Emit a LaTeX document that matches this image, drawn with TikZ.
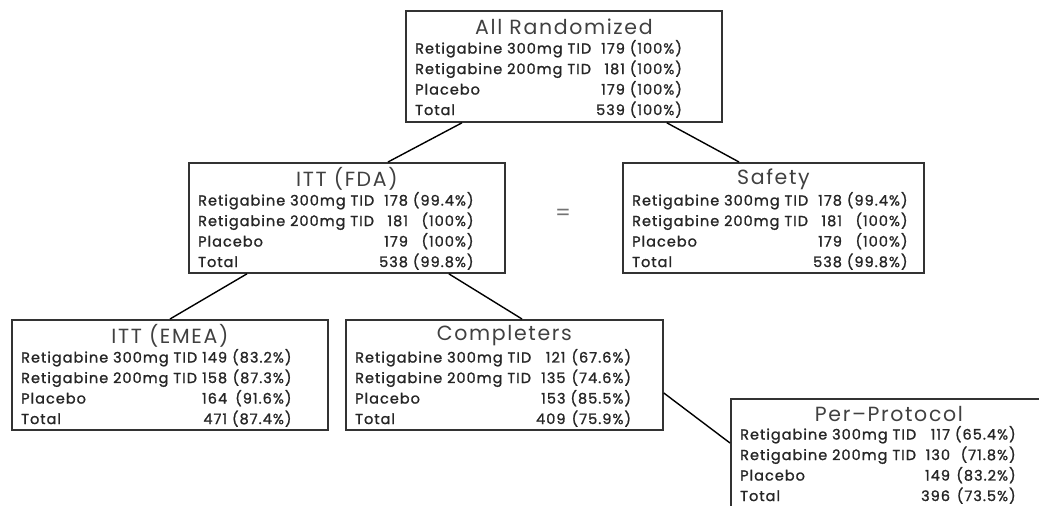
\documentclass[tikz,border=0pt]{standalone}
\usepackage{fontspec}
\setmainfont{Poppins}
\newfontfamily\rowfont[LetterSpace=7,FakeBold=1.2]{Poppins}
\newfontfamily\headfont[LetterSpace=8]{Poppins}
\usetikzlibrary{calc}
\newcommand{\rowtable}[8]{%
  \rowfont\fontsize{14.5}{20.5}\selectfont
  \begin{tabular}{@{}l@{\ }r@{\ }r@{}}
  Retigabine 300mg TID & #1 & (#2\%)\\
  Retigabine 200mg TID & #3 & (#4\%)\\
  Placebo & #5 & (#6\%)\\
  Total & #7 & (#8\%)
  \end{tabular}}
\tikzset{
  grpbox/.style={draw=black!80, line width=1.8pt, minimum width=316pt, minimum height=110pt, anchor=north west, inner sep=0pt},
  rowtxt/.style={anchor=north west, inner sep=0pt, text=black!85},
  titletxt/.style={anchor=center, inner sep=0pt, text=black!75, font=\headfont\fontsize{20.5}{22}\selectfont},
  link/.style={draw=black, line width=1.4pt}
}
\begin{document}
\begin{tikzpicture}[x=1pt,y=-1pt]
\useasboundingbox (0,0) rectangle (1039,506);
% boxes
\node[grpbox, minimum height=111pt] (ar) at (405,10) {};
\node[grpbox] (fda) at (188,162) {};
\node[grpbox, minimum width=301pt] (saf) at (622,162) {};
\node[grpbox] (emea) at (11,319) {};
\node[grpbox, minimum width=317pt] (comp) at (345,319) {};
\node[grpbox] (pp) at (730,398) {};
% titles
\node[titletxt] (art) at ([yshift=-17pt]ar.north) {All Randomized};
\node[titletxt] (fdat) at ([yshift=-17pt]fda.north) {ITT (FDA)};
\node[titletxt] (saft) at ([yshift=-17pt]saf.north) {Safety};
\node[titletxt] (emeat) at ([yshift=-17pt]emea.north) {ITT (EMEA)};
\node[titletxt] (compt) at ([yshift=-17pt]comp.north) {Completers};
\node[titletxt] (ppt) at ([yshift=-16pt]pp.north) {Per\textendash Protocol};
% rows
\node[rowtxt] (arr) at ([xshift=10pt,yshift=-29pt]ar.north west) {\rowtable{179}{100}{181}{100}{179}{100}{539}{100}};
\node[rowtxt] (fdar) at ([xshift=10pt,yshift=-29pt]fda.north west) {\rowtable{178}{99.4}{181}{100}{179}{100}{538}{99.8}};
\node[rowtxt] (safr) at ([xshift=10pt,yshift=-29pt]saf.north west) {\rowtable{178}{99.4}{181}{100}{179}{100}{538}{99.8}};
\node[rowtxt] (emear) at ([xshift=10pt,yshift=-29pt]emea.north west) {\rowtable{149}{83.2}{158}{87.3}{164}{91.6}{471}{87.4}};
\node[rowtxt] (compr) at ([xshift=10pt,yshift=-29pt]comp.north west) {\rowtable{121}{67.6}{135}{74.6}{153}{85.5}{409}{75.9}};
\node[rowtxt] (ppr) at ([xshift=10pt,yshift=-27pt]pp.north west) {\rowtable{117}{65.4}{130}{71.8}{149}{83.2}{396}{73.5}};
% equals sign
\node[text=black!55, font=\fontsize{22}{24}\selectfont, inner sep=0pt] (eq) at (563,215) {=};
% connectors
\draw[link] ([xshift=57pt]ar.south west) -- ([xshift=200pt]fda.north west);
\draw[link] ([xshift=-56pt]ar.south east) -- ([xshift=117pt]saf.north west);
\draw[link] ([xshift=59pt]fda.south west) -- ([xshift=159pt]emea.north west);
\draw[link] ([xshift=-57pt]fda.south east) -- ([xshift=177pt]comp.north west);
\draw[link] ([yshift=-74pt]comp.north east) -- ([yshift=-45pt]pp.north west);
\end{tikzpicture}
\end{document}
